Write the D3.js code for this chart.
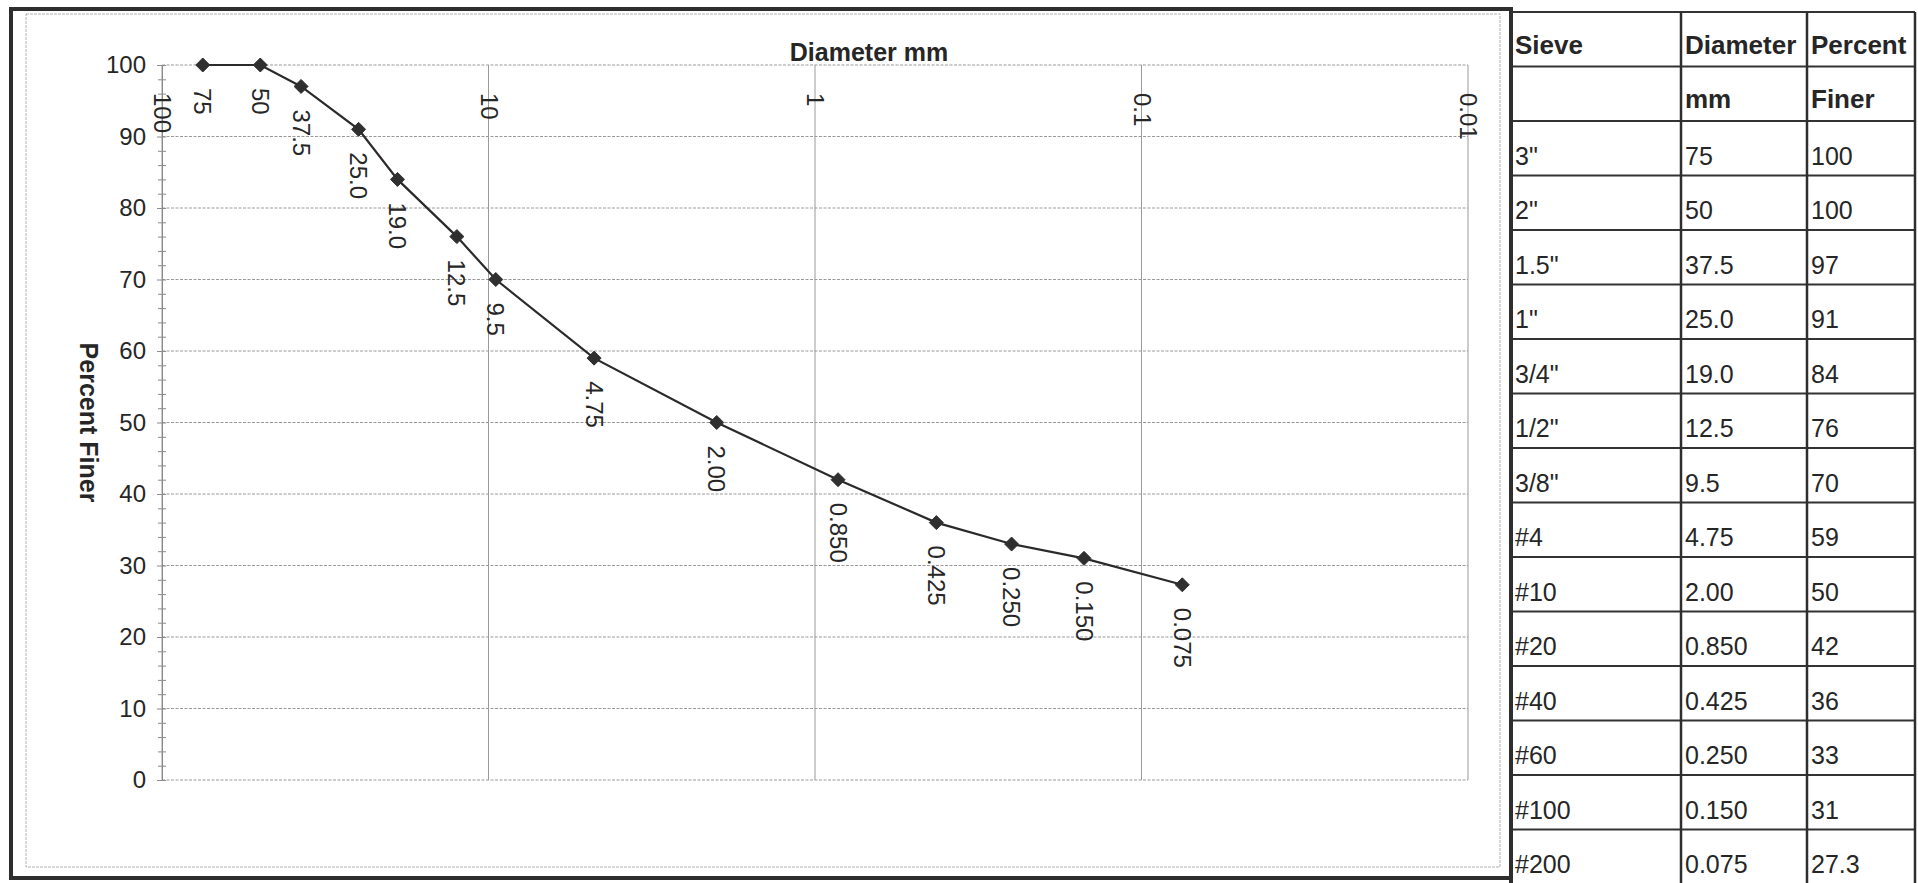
<!DOCTYPE html>
<html>
<head>
<meta charset="utf-8">
<script src="https://cdn.jsdelivr.net/npm/d3@7/dist/d3.min.js"></script>
<style>
  html, body { margin: 0; padding: 0; background: #fff; }
  svg { display: block; }
  text { font-family: "Liberation Sans", Arial, sans-serif; fill: #262626; }
</style>
</head>
<body>
<svg id="chart" width="1918" height="883"></svg>
<script>
// ---- data ----
const sieves = ['3"', '2"', '1.5"', '1"', '3/4"', '1/2"', '3/8"', '#4', '#10', '#20', '#40', '#60', '#100', '#200'];
const diameters = [75, 50, 37.5, 25.0, 19.0, 12.5, 9.5, 4.75, 2.00, 0.850, 0.425, 0.250, 0.150, 0.075];
const diameterLabels = ['75', '50', '37.5', '25.0', '19.0', '12.5', '9.5', '4.75', '2.00', '0.850', '0.425', '0.250', '0.150', '0.075'];
const percentFiner = [100, 100, 97, 91, 84, 76, 70, 59, 50, 42, 36, 33, 31, 27.3];
const percentLabels = ['100', '100', '97', '91', '84', '76', '70', '59', '50', '42', '36', '33', '31', '27.3'];
const xTicks = [100, 10, 1, 0.1, 0.01];
const xTickLabels = ['100', '10', '1', '0.1', '0.01'];
const yTicks = [0, 10, 20, 30, 40, 50, 60, 70, 80, 90, 100];
const yMinorTicks = [2, 4, 6, 8, 12, 14, 16, 18, 22, 24, 26, 28, 32, 34, 36, 38, 42, 44, 46, 48, 52, 54, 56, 58, 62, 64, 66, 68, 72, 74, 76, 78, 82, 84, 86, 88, 92, 94, 96, 98];
const headerRow1 = ['Sieve', 'Diameter', 'Percent'];
const headerRow2 = ['', 'mm', 'Finer'];

const svg = d3.select('#chart');
const dark = '#262626';

// ---- frames ----
svg.append('rect').attr('x', 26).attr('y', 14).attr('width', 1474).attr('height', 853)
  .attr('fill', 'none').attr('stroke', '#b0b0b0').attr('stroke-width', 1).attr('stroke-dasharray', '3,1');
svg.append('rect').attr('x', 11).attr('y', 9).attr('width', 1500).attr('height', 869)
  .attr('fill', 'none').attr('stroke', '#2e2e2e').attr('stroke-width', 4);

// ---- scales ----
const x = d3.scaleLog().domain([100, 0.01]).range([162, 1468]);
const y = d3.scaleLinear().domain([0, 100]).range([780, 65]);

// ---- gridlines ----
const grid = svg.append('g');
grid.selectAll('line.h').data(yTicks).join('line')
  .attr('x1', x(100)).attr('x2', x(0.01))
  .attr('y1', d => y(d)).attr('y2', d => y(d))
  .attr('stroke', '#9a9a9a').attr('stroke-width', 1).attr('stroke-dasharray', '3,1.5');
grid.selectAll('line.v').data(xTicks).join('line')
  .attr('x1', d => x(d)).attr('x2', d => x(d))
  .attr('y1', y(100)).attr('y2', y(0))
  .attr('stroke', '#9a9a9a').attr('stroke-width', 1);

// ---- y axis ----
const yAxis = svg.append('g').attr('transform', `translate(${x(100)},0)`)
  .call(d3.axisLeft(y).tickValues(yTicks).tickSize(5).tickPadding(11));
yAxis.select('.domain').attr('stroke', '#8a8a8a');
yAxis.selectAll('.tick line').attr('stroke', '#8a8a8a').attr('x1', 4).attr('x2', -5);
yAxis.selectAll('.tick text').style('font-size', '24px').attr('fill', dark);

const yMinor = svg.append('g').attr('transform', `translate(${x(100)},0)`)
  .call(d3.axisLeft(y).tickValues(yMinorTicks).tickSize(4).tickFormat(''));
yMinor.select('.domain').remove();
yMinor.selectAll('.tick line').attr('stroke', '#8a8a8a').attr('x1', 4).attr('x2', -4);

// ---- x axis (labels rotated under top edge) ----
const xAxis = svg.append('g').attr('transform', `translate(0,${y(100)})`)
  .call(d3.axisBottom(x).tickValues(xTicks).tickSize(0).tickFormat((d, i) => xTickLabels[i]));
xAxis.select('.domain').remove();
xAxis.selectAll('.tick text')
  .attr('transform', 'translate(0,28) rotate(90)')
  .attr('x', 0).attr('y', 0).attr('dy', '0.35em')
  .style('text-anchor', 'start').style('font-size', '24px').attr('fill', dark);

// ---- titles ----
svg.append('text').attr('x', 869).attr('y', 61).attr('text-anchor', 'middle')
  .style('font-size', '25px').style('font-weight', 'bold').text('Diameter mm');
svg.append('text').attr('transform', `translate(80,${(y(0) + y(100)) / 2}) rotate(90)`)
  .attr('text-anchor', 'middle').style('font-size', '25px').style('font-weight', 'bold')
  .text('Percent Finer');

// ---- line + markers ----
const pts = diameters.map((d, i) => ({ d, p: percentFiner[i], lab: diameterLabels[i] }));
svg.append('path').datum(pts)
  .attr('d', d3.line().x(v => x(v.d)).y(v => y(v.p)))
  .attr('fill', 'none').attr('stroke', '#2a2a2a').attr('stroke-width', 2.2);
svg.append('g').selectAll('path').data(pts).join('path')
  .attr('d', d3.symbol().type(d3.symbolDiamond2).size(125))
  .attr('transform', v => `translate(${x(v.d)},${y(v.p)})`)
  .attr('fill', '#2f2f2f').attr('stroke', '#2f2f2f').attr('stroke-width', 1);
svg.append('g').selectAll('text').data(pts).join('text')
  .attr('transform', v => `translate(${x(v.d)},${y(v.p) + 23}) rotate(90)`)
  .attr('dy', '0.35em').style('font-size', '24px').attr('fill', dark)
  .text(v => v.lab);

// ---- table ----
const colX = [1511, 1681, 1807, 1915];
const rowTop = 12, rowH = 54.5;
const rows = [headerRow1, headerRow2].concat(sieves.map((s, i) => [s, diameterLabels[i], percentLabels[i]]));
const table = svg.append('g');
rows.forEach((r, ri) => {
  r.forEach((c, ci) => {
    table.append('text')
      .attr('x', colX[ci] + 4)
      .attr('y', rowTop + (ri + 1) * rowH - (ri < 2 ? 13 : 11))
      .style('font-size', ri < 2 ? '26px' : '25px')
      .style('font-weight', ri < 2 ? 'bold' : 'normal')
      .text(c);
  });
});
d3.range(rows.length + 1).forEach(k => {
  table.append('line').attr('x1', colX[0]).attr('x2', colX[3])
    .attr('y1', rowTop + k * rowH).attr('y2', rowTop + k * rowH)
    .attr('stroke', '#333').attr('stroke-width', 2);
});
colX.forEach((cx, i) => {
  table.append('line').attr('x1', cx).attr('x2', cx)
    .attr('y1', rowTop).attr('y2', 883)
    .attr('stroke', '#2e2e2e').attr('stroke-width', i === 0 ? 4 : 2.5);
});
</script>
</body>
</html>
